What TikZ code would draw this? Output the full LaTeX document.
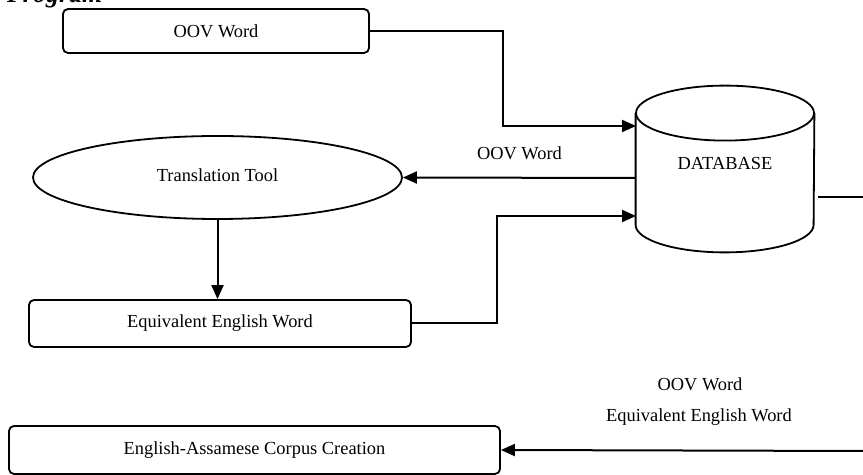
\documentclass[tikz,border=0pt]{standalone}
\usepackage{fontspec}
\setmainfont{Liberation Serif}
\usepackage{tikz}
\usetikzlibrary{arrows.meta}
\usetikzlibrary{calc}
\usetikzlibrary{positioning}
\usetikzlibrary{shapes.geometric}

\begin{document}
\begin{tikzpicture}[
		x=0.5pt, y=-0.5pt,
		every node/.style={font=\fontsize{9.2}{11}\selectfont},
  		> = {Triangle[length=7pt,width=6pt]},
  		wordbox/.style = {draw,line width=0.9pt,rounded corners=2.5pt,inner sep=0pt},
  		toolshape/.style = {draw,line width=0.9pt,ellipse,inner sep=0pt},
  		wire/.style = {line width=1pt},
  		link/.style = {wire,->}
		]

	\useasboundingbox (0,0) rectangle (863,475);

	\node[anchor=base west,font=\fontsize{13}{15}\selectfont\bfseries\itshape] (title) at (0,3) {Program};

	\node[wordbox,minimum width=153pt,minimum height=22pt] (oov) at (216,31) {OOV Word};
	\node[toolshape,minimum width=184.5pt,minimum height=41.5pt] (tool) at (217.5,177.5) {\raisebox{2.5pt}{Translation Tool}};
	\node[wordbox,minimum width=191pt,minimum height=23.5pt] (equiv) at (220,323.5) {Equivalent English Word};
	\node[wordbox,minimum width=245.5pt,minimum height=24pt] (corpus) at (254.5,450) {English-Assamese Corpus Creation};

	% database cylinder
	\node[minimum width=89pt,minimum height=83pt,inner sep=0pt] (db) at (725,169) {};
	\draw[line width=0.9pt,fill=white] ([yshift=-13.75pt]db.north west) -- ([yshift=13.75pt]db.south west)
		arc[start angle=180,end angle=360,x radius=44.5pt,y radius=13.75pt] -- ([yshift=-13.75pt]db.north east);
	\draw[line width=0.9pt] ([yshift=-13.75pt]db.north) ellipse [x radius=44.5pt,y radius=13.75pt];
	\node (dblabel) at ([yshift=2.5pt]db.center) {DATABASE};

	\coordinate (in1) at (636,126);
	\coordinate (out1) at (636,178);
	\coordinate (in2) at (636,216);
	\coordinate (dbout) at (818,197);
	\coordinate (edge1) at (863,197);
	\coordinate (edge2) at (863,451);

	\draw[link] (oov.east) -| ($(oov.east)!.5!(in1)$) |- (in1);
	\draw[link] (out1) -- (tool.east) node[midway,above=5pt] (lblup) {OOV Word};
	\draw[link] (tool.south) -- (tool.south |- equiv.north);
	\draw[link] (equiv.east) -| ($(equiv.east)!.38!(in2)$) |- (in2);
	\draw[wire] (dbout) -- (edge1);
	\draw[link] (edge2) -- (corpus.east);

	\node (lbl1) at (700,384) {OOV Word};
	\node (lbl2) at (699,417) {Equivalent English Word};
\end{tikzpicture}
\end{document}
